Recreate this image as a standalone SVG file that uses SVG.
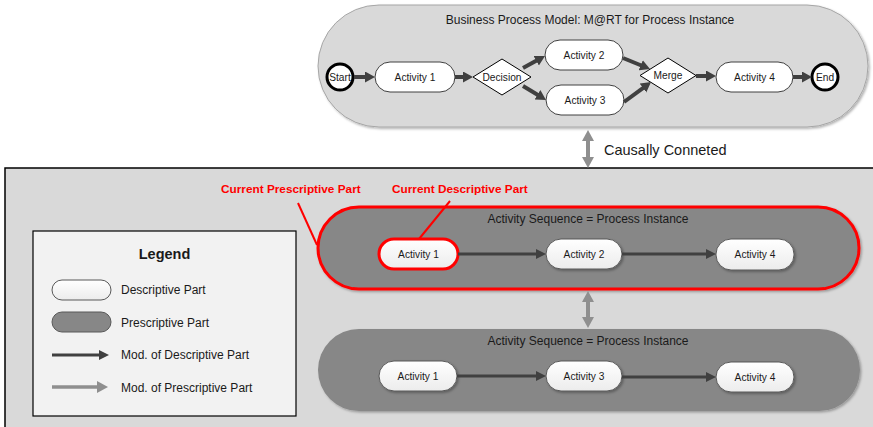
<svg xmlns="http://www.w3.org/2000/svg" width="873" height="427" viewBox="0 0 873 427">
  <defs>
    <linearGradient id="nodeGrad" x1="0" y1="0" x2="0" y2="1">
      <stop offset="0" stop-color="#ffffff"/>
      <stop offset="1" stop-color="#ececec"/>
    </linearGradient>
    <filter id="shadow" x="-10%" y="-10%" width="130%" height="140%">
      <feDropShadow dx="1.5" dy="1.5" stdDeviation="1" flood-color="#000" flood-opacity="0.3"/>
    </filter>
    <marker id="headDark" markerUnits="userSpaceOnUse" markerWidth="12" markerHeight="12" refX="2" refY="5.5" orient="auto" viewBox="0 0 12 12">
      <path d="M0,0 L10,5.5 L0,11 z" fill="#404040"/>
    </marker>
    <marker id="headThin" markerUnits="userSpaceOnUse" markerWidth="12" markerHeight="12" refX="2" refY="5" orient="auto" viewBox="0 0 12 12">
      <path d="M0,0 L10,5 L0,10 z" fill="#404040"/>
    </marker>
    <marker id="headGray" markerUnits="userSpaceOnUse" markerWidth="14" markerHeight="14" refX="2" refY="6" orient="auto-start-reverse" viewBox="0 0 14 14">
      <path d="M0,0 L11,6 L0,12 z" fill="#8f8f8f"/>
    </marker>
    <style>
      text { font-family: "Liberation Sans", Arial, sans-serif; fill: #1a1a1a; }
      .title { font-size: 12px; text-anchor: middle; }
      .lbl { font-size: 10.2px; text-anchor: middle; dominant-baseline: central; }
      .node { fill: url(#nodeGrad); stroke: #595959; stroke-width: 1; }
      .pmnode { fill: #ffffff; stroke: #404040; stroke-width: 1; }
      .diamond { fill: #ffffff; stroke: #000; stroke-width: 1; }
      .event { fill: #ffffff; stroke: #000; stroke-width: 3; }
      .flow { stroke: #404040; stroke-width: 4; fill: none; marker-end: url(#headDark); }
      .seq { stroke: #404040; stroke-width: 3; fill: none; marker-end: url(#headThin); }
      .link { stroke: #8f8f8f; stroke-width: 4; fill: none; marker-start: url(#headGray); marker-end: url(#headGray); }
      .red { fill: #ff0000; font-weight: bold; font-size: 11.8px; }
      .legendTxt { font-size: 12px; dominant-baseline: central; }
    </style>
  </defs>

  <rect width="873" height="427" fill="#ffffff"/>

  <!-- Business process model -->
  <g id="process-model">
    <rect x="318" y="5" width="550" height="122" rx="61" fill="#d9d9d9" stroke="#a6a6a6" stroke-width="1" filter="url(#shadow)"/>
    <text class="title" x="590" y="24">Business Process Model: M@RT for Process Instance</text>
  </g>
  <g id="start">
    <circle class="event" cx="340" cy="77" r="13"/>
    <text class="lbl" x="340" y="77" font-size="8.6">Start</text>
  </g>
  <g id="pm-activity1">
    <rect class="pmnode" x="375" y="62" width="80" height="30" rx="15"/>
    <text class="lbl" x="415" y="77">Activity 1</text>
  </g>
  <g id="decision">
    <polygon class="diamond" points="473,77 502,59 531,77 502,95"/>
    <text class="lbl" x="502" y="77">Decision</text>
  </g>
  <g id="pm-activity2">
    <rect class="pmnode" x="545" y="40" width="78" height="30" rx="15"/>
    <text class="lbl" x="584" y="55">Activity 2</text>
  </g>
  <g id="pm-activity3">
    <rect class="pmnode" x="546" y="85" width="78" height="30" rx="15"/>
    <text class="lbl" x="585" y="100">Activity 3</text>
  </g>
  <g id="merge">
    <polygon class="diamond" points="640,75.5 668,58 696,75.5 668,93"/>
    <text class="lbl" x="668" y="75">Merge</text>
  </g>
  <g id="pm-activity4">
    <rect class="pmnode" x="716" y="62" width="77" height="30" rx="15"/>
    <text class="lbl" x="754.5" y="77">Activity 4</text>
  </g>
  <g id="end">
    <circle class="event" cx="825" cy="77" r="13"/>
    <text class="lbl" x="825" y="77" font-size="9">End</text>
  </g>

  <!-- Causal connection label -->
  <g id="causal-label">
    <text x="604" y="155" font-size="14.5">Causally Conneted</text>
  </g>

  <!-- Runtime panel -->
  <g id="runtime-panel">
    <rect x="5" y="168" width="900" height="300" fill="#d9d9d9" stroke="#000" stroke-width="1.5"/>
  </g>

  <!-- Legend -->
  <g id="legend">
    <rect x="33" y="231" width="263" height="185" fill="#f2f2f2" stroke="#000" stroke-width="1.2"/>
    <text x="164.5" y="259" font-size="14.5" font-weight="bold" text-anchor="middle">Legend</text>
    <rect x="52" y="280" width="59" height="20" rx="10" fill="url(#nodeGrad)" stroke="#595959" stroke-width="1"/>
    <text class="legendTxt" x="121" y="290">Descriptive Part</text>
    <rect x="52" y="312" width="59" height="20" rx="10" fill="#878787" stroke="#595959" stroke-width="1"/>
    <text class="legendTxt" x="121" y="323">Prescriptive Part</text>
    <line x1="52" y1="355" x2="101" y2="355" stroke="#404040" stroke-width="3" marker-end="url(#headThin)"/>
    <text class="legendTxt" x="121" y="355">Mod. of Descriptive Part</text>
    <line x1="52" y1="387" x2="99" y2="387" stroke="#8f8f8f" stroke-width="3.5" marker-end="url(#headGray)"/>
    <text class="legendTxt" x="121" y="388">Mod. of Prescriptive Part</text>
  </g>

  <!-- Current instance sequence (prescriptive part) -->
  <g id="current-sequence">
    <rect x="318" y="207" width="541" height="82" rx="41" fill="#878787" stroke="#ff0000" stroke-width="3" filter="url(#shadow)"/>
    <text class="title" x="588" y="223">Activity Sequence = Process Instance</text>
  </g>
  <g id="cur-activity1">
    <rect x="379" y="239" width="79" height="30" rx="15" fill="url(#nodeGrad)" stroke="#ff0000" stroke-width="3"/>
    <text class="lbl" x="418.5" y="254">Activity 1</text>
  </g>
  <g id="cur-activity2">
    <rect class="node" x="546" y="239" width="76" height="30" rx="15" filter="url(#shadow)"/>
    <text class="lbl" x="584" y="254">Activity 2</text>
  </g>
  <g id="cur-activity4">
    <rect class="node" x="716" y="239" width="78" height="31" rx="15" filter="url(#shadow)"/>
    <text class="lbl" x="755" y="254.5">Activity 4</text>
  </g>

  <!-- Alternative instance sequence -->
  <g id="alt-sequence">
    <rect x="318" y="329" width="542" height="82" rx="41" fill="#878787" filter="url(#shadow)"/>
    <text class="title" x="588" y="345">Activity Sequence = Process Instance</text>
  </g>
  <g id="alt-activity1">
    <rect class="node" x="379" y="361" width="78" height="30" rx="15" filter="url(#shadow)"/>
    <text class="lbl" x="418" y="376">Activity 1</text>
  </g>
  <g id="alt-activity3">
    <rect class="node" x="546" y="361" width="76" height="30" rx="15" filter="url(#shadow)"/>
    <text class="lbl" x="584" y="376">Activity 3</text>
  </g>
  <g id="alt-activity4">
    <rect class="node" x="716" y="362" width="78" height="30" rx="15" filter="url(#shadow)"/>
    <text class="lbl" x="755" y="377">Activity 4</text>
  </g>

  <!-- Annotations -->
  <g id="annotations">
    <text class="red" x="221" y="193">Current Prescriptive Part</text>
    <text class="red" x="392" y="193">Current Descriptive Part</text>
    <line x1="298" y1="203" x2="317" y2="245" stroke="#ff0000" stroke-width="2"/>
    <line x1="450" y1="201" x2="419" y2="239" stroke="#ff0000" stroke-width="2"/>
  </g>

  <!-- Connectors -->
  <g id="connectors">
    <line class="flow" x1="354" y1="77" x2="367" y2="77"/>
    <line class="flow" x1="455" y1="77" x2="465" y2="77"/>
    <line class="flow" x1="523" y1="68" x2="538" y2="59.8"/>
    <line class="flow" x1="523" y1="86" x2="539.2" y2="95.8"/>
    <line class="flow" x1="623" y1="58" x2="642.6" y2="66"/>
    <line class="flow" x1="624" y1="102" x2="644.6" y2="86.8"/>
    <line class="flow" x1="696" y1="76" x2="708" y2="76"/>
    <line class="flow" x1="793" y1="77" x2="804" y2="77"/>

    <line class="link" x1="588" y1="139" x2="588" y2="159"/>
    <line class="link" x1="588" y1="300" x2="588" y2="319"/>

    <line class="seq" x1="458" y1="254" x2="538" y2="254"/>
    <line class="seq" x1="622" y1="254" x2="708" y2="254"/>
    <line class="seq" x1="457" y1="376" x2="538" y2="376"/>
    <line class="seq" x1="622" y1="377" x2="708" y2="377"/>
  </g>
</svg>
